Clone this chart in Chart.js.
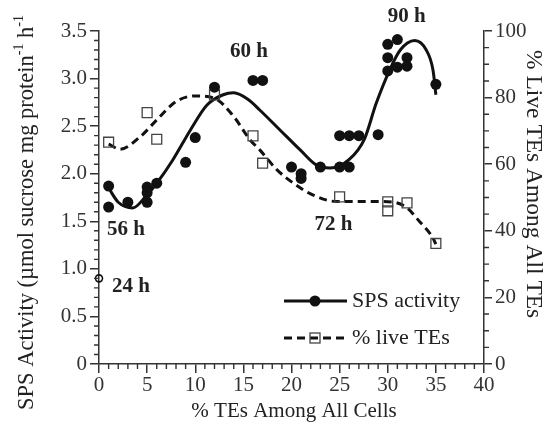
<!DOCTYPE html>
<html>
<head>
<meta charset="utf-8">
<script src="https://cdn.jsdelivr.net/npm/chart.js@4.4.1/dist/chart.umd.min.js"></script>
<style>
  html, body { margin: 0; padding: 0; background: #fff; }
</style>
</head>
<body>
<canvas id="chart" width="555" height="425"></canvas>
<script>
// --- measured SPS activity (filled circles, left axis) ---
const spsX = [1, 1, 3, 5, 5, 5, 6, 9, 10, 12, 16, 17, 20, 21, 21, 23, 25, 26, 25, 26, 27, 29, 30, 30, 30, 31, 31, 32, 32, 35];
const spsY = [1.87, 1.65, 1.70, 1.86, 1.80, 1.70, 1.90, 2.12, 2.38, 2.91, 2.98, 2.98, 2.07, 2.00, 1.95, 2.07, 2.07, 2.07, 2.40, 2.40, 2.40, 2.41, 3.36, 3.22, 3.08, 3.41, 3.12, 3.22, 3.13, 2.94];

// --- fitted SPS curve ---
const spsFitX = [1, 2, 3.5, 5, 6, 7.7, 9.5, 11.2, 12.9, 14, 15.5, 16.7, 18.8, 20.9, 22.6, 24, 26, 27.6, 28.8, 30.2, 31.3, 32.8, 34, 34.7, 35];
const spsFitY = [1.85, 1.70, 1.64, 1.78, 1.90, 2.15, 2.46, 2.72, 2.83, 2.85, 2.78, 2.67, 2.46, 2.25, 2.09, 2.06, 2.15, 2.37, 2.74, 3.09, 3.30, 3.40, 3.30, 3.09, 2.83];

// --- % live TEs (open squares, right axis) ---
const liveX = [1, 5, 6, 12, 16, 17, 25, 30, 30, 32, 35];
const liveY = [66.6, 75.5, 67.5, 80.8, 68.5, 60.3, 50.2, 48.7, 46.0, 48.4, 36.2];

// --- fitted % live curve ---
const liveFitX = [1, 2.2, 4.3, 6, 8, 10, 12, 14, 15.7, 16.7, 18.5, 20.2, 22.2, 24.7, 27.4, 29.5, 31.8, 33.3, 34.7, 35];
const liveFitY = [66, 64.5, 68.3, 73.3, 78.8, 80.5, 79.8, 74.3, 67.3, 64.3, 58.3, 54.3, 50.8, 48.8, 48.8, 48.8, 47.3, 42.8, 37.8, 36];

// --- 24 h sample (open circle) ---
const earlyX = [0];
const earlyY = [0.9];

// tick labels
const xTicks = [0, 5, 10, 15, 20, 25, 30, 35, 40];
const yTicks = ['0', '0.5', '1.0', '1.5', '2.0', '2.5', '3.0', '3.5'];
const y2Ticks = [0, 20, 40, 60, 80, 100];

// time labels on the plot
const timeLabels = ['24 h', '56 h', '60 h', '72 h', '90 h'];
const timeLabelX = [1.35, 0.83, 13.6, 22.4, 30.0];
const timeLabelY = [0.81, 1.41, 3.28, 1.47, 3.65];

const SERIF = '"Liberation Serif", "Times New Roman", serif';
const INK = '#222';

const toPts = (xs, ys) => xs.map((x, i) => ({ x: x, y: ys[i] }));

// minor tick marks on all three axes
const minorTicks = {
    id: 'minorTicks',
    afterDraw(chart) {
        const ctx = chart.ctx;
        const x = chart.scales.x, y = chart.scales.y, y2 = chart.scales.y2;
        const area = chart.chartArea;
        ctx.save();
        ctx.strokeStyle = '#333';
        ctx.lineWidth = 1.4;
        ctx.beginPath();
        for (let v = 1; v < 40; v++) {
            if (v % 5 === 0) continue;
            const px = x.getPixelForValue(v);
            ctx.moveTo(px, area.bottom);
            ctx.lineTo(px, area.bottom + 5);
        }
        for (let i = 1; i < 35; i++) {
            if (i % 5 === 0) continue;
            const py = y.getPixelForValue(i / 10);
            ctx.moveTo(area.left, py);
            ctx.lineTo(area.left - 5, py);
        }
        for (let v = 5; v < 100; v += 5) {
            if (v % 20 === 0) continue;
            const py = y2.getPixelForValue(v);
            ctx.moveTo(area.right, py);
            ctx.lineTo(area.right + 5, py);
        }
        ctx.stroke();
        ctx.restore();
    }
};

// axis titles (left one has superscripts)
const axisTitles = {
    id: 'axisTitles',
    afterDraw(chart) {
        const ctx = chart.ctx;
        ctx.save();
        ctx.fillStyle = INK;
        ctx.textBaseline = 'alphabetic';
        ctx.textAlign = 'left';

        // left
        ctx.save();
        ctx.translate(33, 410);
        ctx.rotate(-Math.PI / 2);
        const big = '22.5px ' + SERIF, small = '14px ' + SERIF;
        const parts = [
            ['SPS Activity (\u00b5mol sucrose mg protein', big, 0],
            ['-1', small, -10],
            [' h', big, 0],
            ['-1', small, -10]
        ];
        let cx = 0;
        parts.forEach(([t, f, dy]) => {
            ctx.font = f;
            ctx.fillText(t, cx, dy);
            cx += ctx.measureText(t).width;
        });
        ctx.restore();

        // right
        ctx.save();
        ctx.translate(527, 50);
        ctx.rotate(Math.PI / 2);
        ctx.font = '23.5px ' + SERIF;
        ctx.fillText('% Live TEs Among All TEs', 0, 0);
        ctx.restore();

        // bottom
        ctx.font = '21px ' + SERIF;
        ctx.textAlign = 'center';
        ctx.textBaseline = 'middle';
        ctx.fillText('% TEs Among All Cells', 294, 411);
        ctx.restore();
    }
};

// "24 h", "56 h" ... labels
const timeText = {
    id: 'timeText',
    afterDatasetsDraw(chart) {
        const { ctx, scales: { x, y } } = chart;
        ctx.save();
        ctx.fillStyle = INK;
        ctx.font = 'bold 21px ' + SERIF;
        ctx.textAlign = 'left';
        ctx.textBaseline = 'middle';
        timeLabels.forEach((t, i) => {
            ctx.fillText(t, x.getPixelForValue(timeLabelX[i]), y.getPixelForValue(timeLabelY[i]));
        });
        ctx.restore();
    }
};

// legend inside the plot, line + marker like the original
const innerLegend = {
    id: 'innerLegend',
    afterDraw(chart) {
        const ctx = chart.ctx;
        const rows = [
            { text: 'SPS activity', y: 301, dash: [], marker: 'dot' },
            { text: '% live TEs', y: 338, dash: [8, 5], marker: 'square' }
        ];
        ctx.save();
        rows.forEach(r => {
            ctx.strokeStyle = '#111';
            ctx.lineWidth = 3;
            ctx.setLineDash(r.dash);
            ctx.beginPath();
            ctx.moveTo(284, r.y);
            ctx.lineTo(347, r.y);
            ctx.stroke();
            ctx.setLineDash([]);
            if (r.marker === 'dot') {
                ctx.fillStyle = '#111';
                ctx.beginPath();
                ctx.arc(315, r.y, 5.5, 0, Math.PI * 2);
                ctx.fill();
            } else {
                ctx.strokeStyle = '#444';
                ctx.lineWidth = 1.3;
                ctx.strokeRect(310, r.y - 5, 10, 10);
            }
            ctx.fillStyle = INK;
            ctx.font = '22px ' + SERIF;
            ctx.textAlign = 'left';
            ctx.textBaseline = 'middle';
            ctx.fillText(r.text, 352, r.y);
        });
        ctx.restore();
    }
};

const tickFont = { family: SERIF, size: 21 };

new Chart(document.getElementById('chart'), {
    type: 'scatter',
    data: {
        datasets: [
            {
                label: 'SPS activity',
                data: toPts(spsX, spsY),
                yAxisID: 'y',
                pointRadius: 5.5,
                pointBackgroundColor: '#111',
                pointBorderWidth: 0,
                clip: false
            },
            {
                label: '24 h',
                data: toPts(earlyX, earlyY),
                yAxisID: 'y',
                pointRadius: 3.5,
                pointBackgroundColor: 'rgba(0,0,0,0)',
                pointBorderColor: '#111',
                pointBorderWidth: 1.6,
                clip: false
            },
            {
                label: '% live TEs',
                data: toPts(liveX, liveY),
                yAxisID: 'y2',
                pointStyle: 'rect',
                pointRadius: 7,
                pointBackgroundColor: 'rgba(0,0,0,0)',
                pointBorderColor: '#444',
                pointBorderWidth: 1.3,
                clip: false
            },
            {
                label: 'SPS fit',
                data: toPts(spsFitX, spsFitY),
                yAxisID: 'y',
                showLine: true,
                borderColor: '#111',
                borderWidth: 3,
                pointRadius: 0,
                cubicInterpolationMode: 'monotone',
                clip: false
            },
            {
                label: 'live fit',
                data: toPts(liveFitX, liveFitY),
                yAxisID: 'y2',
                showLine: true,
                borderColor: '#111',
                borderWidth: 3,
                borderDash: [8, 5],
                pointRadius: 0,
                cubicInterpolationMode: 'monotone',
                clip: false
            }
        ]
    },
    options: {
        responsive: false,
        animation: false,
        layout: { padding: { top: 31, left: 0, right: 0, bottom: 0 } },
        plugins: {
            legend: { display: false },
            tooltip: { enabled: false }
        },
        scales: {
            x: {
                type: 'linear',
                min: 0,
                max: 40,
                afterBuildTicks: s => { s.ticks = xTicks.map(v => ({ value: v })); },
                ticks: { font: tickFont, color: '#333', padding: 0, maxRotation: 0 },
                grid: { drawOnChartArea: false, tickLength: 9, tickColor: '#333', lineWidth: 1.5 },
                border: { color: '#333', width: 1.5 },
                afterFit: s => { s.height = 61; }
            },
            y: {
                position: 'left',
                min: 0,
                max: 3.5,
                afterBuildTicks: s => { s.ticks = yTicks.map(v => ({ value: parseFloat(v) })); },
                ticks: {
                    font: tickFont, color: '#333', padding: 3,
                    callback: (v, i) => yTicks[i]
                },
                grid: { drawOnChartArea: false, tickLength: 9, tickColor: '#333', lineWidth: 1.5 },
                border: { color: '#333', width: 1.5 },
                afterFit: s => { s.width = 99; }
            },
            y2: {
                position: 'right',
                min: 0,
                max: 100,
                afterBuildTicks: s => { s.ticks = y2Ticks.map(v => ({ value: v })); },
                ticks: { font: tickFont, color: '#333', padding: 3 },
                grid: { drawOnChartArea: false, tickLength: 8, tickColor: '#333', lineWidth: 1.5 },
                border: { color: '#333', width: 1.5 },
                afterFit: s => { s.width = 71; }
            }
        }
    },
    plugins: [minorTicks, axisTitles, timeText, innerLegend]
});
</script>
</body>
</html>
